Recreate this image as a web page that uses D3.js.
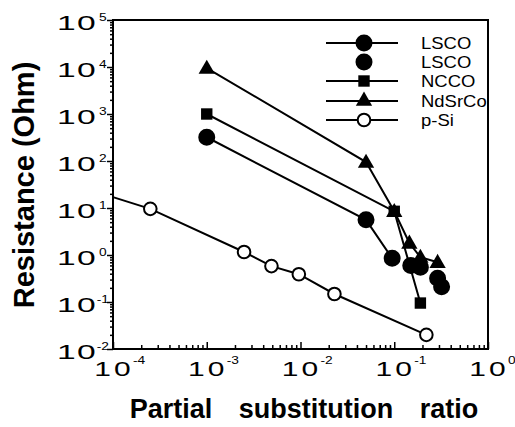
<!DOCTYPE html>
<html><head><meta charset="utf-8">
<script src="https://cdn.jsdelivr.net/npm/d3@7"></script>
<style>body{margin:0;background:#fff}svg{font-family:"Liberation Sans",Arial,Helvetica,sans-serif}</style>
</head><body><svg id="c" width="515" height="427"></svg>
<script>
// ---- data (x = partial substitution ratio, y = resistance in Ohm) ----
const lscoLine   = [[0.001,320],[0.05,5.6],[0.095,0.85]];
const lscoPoints = [[0.15,0.6],[0.19,0.55],[0.29,0.32],[0.32,0.21]];
const nccoData   = [[0.001,1000],[0.1,8.5],[0.19,0.095]];
const ndsrcoData = [[0.001,9500],[0.05,95],[0.1,8.5],[0.145,1.8],[0.19,0.9],[0.29,0.7]];
const psiData    = [[2.5e-4,9.6],[2.5e-3,1.16],[4.9e-3,0.58],[0.0096,0.39],[0.023,0.148],[0.22,0.02]];
const psiFitStart = [1e-4,17];
const xTickExps = [-4,-3,-2,-1,0];
const yTickExps = [-2,-1,0,1,2,3,4,5];
const legendNames = ["LSCO","LSCO","NCCO","NdSrCo","p-Si"];

const svg = d3.select("#c");
const L=113,R=488,T=20,B=349;
const x = d3.scaleLog().domain([1e-4,1]).range([L,R]);
const y = d3.scaleLog().domain([1e-2,1e5]).range([B,T]);

// axes ticks
const isMinor = v=>Math.abs(Math.log10(v)-Math.round(Math.log10(v)))>1e-6;
const yMinor = d3.axisLeft(y).tickValues(y.ticks().filter(isMinor)).tickSize(3).tickFormat("");
const yMajor = d3.axisLeft(y).tickValues(yTickExps.map(e=>Math.pow(10,e))).tickSize(6).tickFormat("");
const xMinor = d3.axisBottom(x).tickValues(x.ticks().filter(isMinor)).tickSize(-4).tickFormat("");
const xMajor = d3.axisBottom(x).tickValues(xTickExps.map(e=>Math.pow(10,e))).tickSize(-7).tickFormat("");
[[yMinor,`translate(${L},0)`],[yMajor,`translate(${L},0)`],[xMinor,`translate(0,${B})`],[xMajor,`translate(0,${B})`]].forEach(([a,t])=>{
  const g=svg.append("g").attr("transform",t).call(a);
  g.select(".domain").remove();
  g.selectAll("line").attr("stroke","#000").attr("stroke-width",1.5);
});
// frame
svg.append("rect").attr("x",L).attr("y",T).attr("width",R-L).attr("height",B-T)
  .attr("fill","none").attr("stroke","#000").attr("stroke-width",2);

const expText = e => e<0 ? ("-"+(-e)) : String(e);

// y tick labels (wide glyphs as in the reference)
yTickExps.forEach(e=>{
  const py=y(Math.pow(10,e));
  svg.append("text").attr("transform",`translate(${L-16},${py+10}) scale(1.6,1)`)
    .attr("text-anchor","end").attr("font-size",21).attr("letter-spacing",0.8).attr("fill","#000").text("10");
  svg.append("text").attr("transform",`translate(${L-14},${py+1}) scale(1.25,1)`)
    .attr("text-anchor", e<0?"middle":"start").attr("dx", e<0?3:0)
    .attr("font-size",11).attr("fill","#000").text(expText(e));
});
// x tick labels
xTickExps.forEach(e=>{
  const cx=x(Math.pow(10,e));
  svg.append("text").attr("transform",`translate(${cx+1},376) scale(1.5,1)`).attr("text-anchor","middle")
    .attr("font-size",20).attr("letter-spacing",2).attr("fill","#000").text("10");
  svg.append("text").attr("transform",`translate(${cx+20},364) scale(1.25,1)`).attr("font-size",11)
    .attr("fill","#000").text(expText(e));
});

// axis titles
svg.append("text").attr("transform","translate(34,185) rotate(-90)").attr("text-anchor","middle")
  .attr("font-size",29).attr("font-weight","bold").attr("fill","#000").text("Resistance (Ohm)");
svg.append("text").attr("x",304).attr("y",418).attr("text-anchor","middle")
  .attr("font-size",27).attr("font-weight","bold").attr("word-spacing",19)
  .attr("fill","#000").text("Partial substitution ratio");

// series
const line = d3.line().x(d=>x(d[0])).y(d=>y(d[1]));
const lw=2;
function drawLine(data){svg.append("path").datum(data).attr("d",line).attr("fill","none").attr("stroke","#000").attr("stroke-width",lw);}
drawLine([psiFitStart].concat(psiData));
drawLine(lscoLine);
drawLine(nccoData);
drawLine(ndsrcoData);

const triSym = d3.symbol().type(d3.symbolTriangle).size(115);
const sqSym = d3.symbol().type(d3.symbolSquare).size(130);
function circ(px,py,filled){
  svg.append("circle").attr("cx",px).attr("cy",py).attr("r",filled?7.5:6.3)
    .attr("fill",filled?"#000":"#fff").attr("stroke","#000").attr("stroke-width",2);
}
function tri(px,py){svg.append("path").attr("d",triSym()).attr("transform",`translate(${px},${py+1})`).attr("fill","#000");}
function sq(px,py){svg.append("path").attr("d",sqSym()).attr("transform",`translate(${px},${py})`).attr("fill","#000");}

psiData.forEach(d=>circ(x(d[0]),y(d[1]),false));
ndsrcoData.forEach(d=>tri(x(d[0]),y(d[1])));
nccoData.forEach(d=>sq(x(d[0]),y(d[1])));
lscoLine.forEach(d=>circ(x(d[0]),y(d[1]),true));
lscoPoints.forEach(d=>circ(x(d[0]),y(d[1]),true));

// legend
const legY=[43,62,81,101,120];
legendNames.forEach((n,i)=>{
  const ly=legY[i], mx=364;
  if(i!==1) svg.append("line").attr("x1",326).attr("x2",398).attr("y1",ly).attr("y2",ly).attr("stroke","#000").attr("stroke-width",lw);
  if(i===0||i===1) circ(mx,ly,true);
  if(i===2) sq(mx,ly);
  if(i===3) tri(mx,ly-1);
  if(i===4) circ(mx,ly,false);
  svg.append("text").attr("transform",`translate(421,${ly+6}) scale(1.12,1)`).attr("font-size",16.5)
    .attr("fill","#000").text(n);
});
</script></body></html>
